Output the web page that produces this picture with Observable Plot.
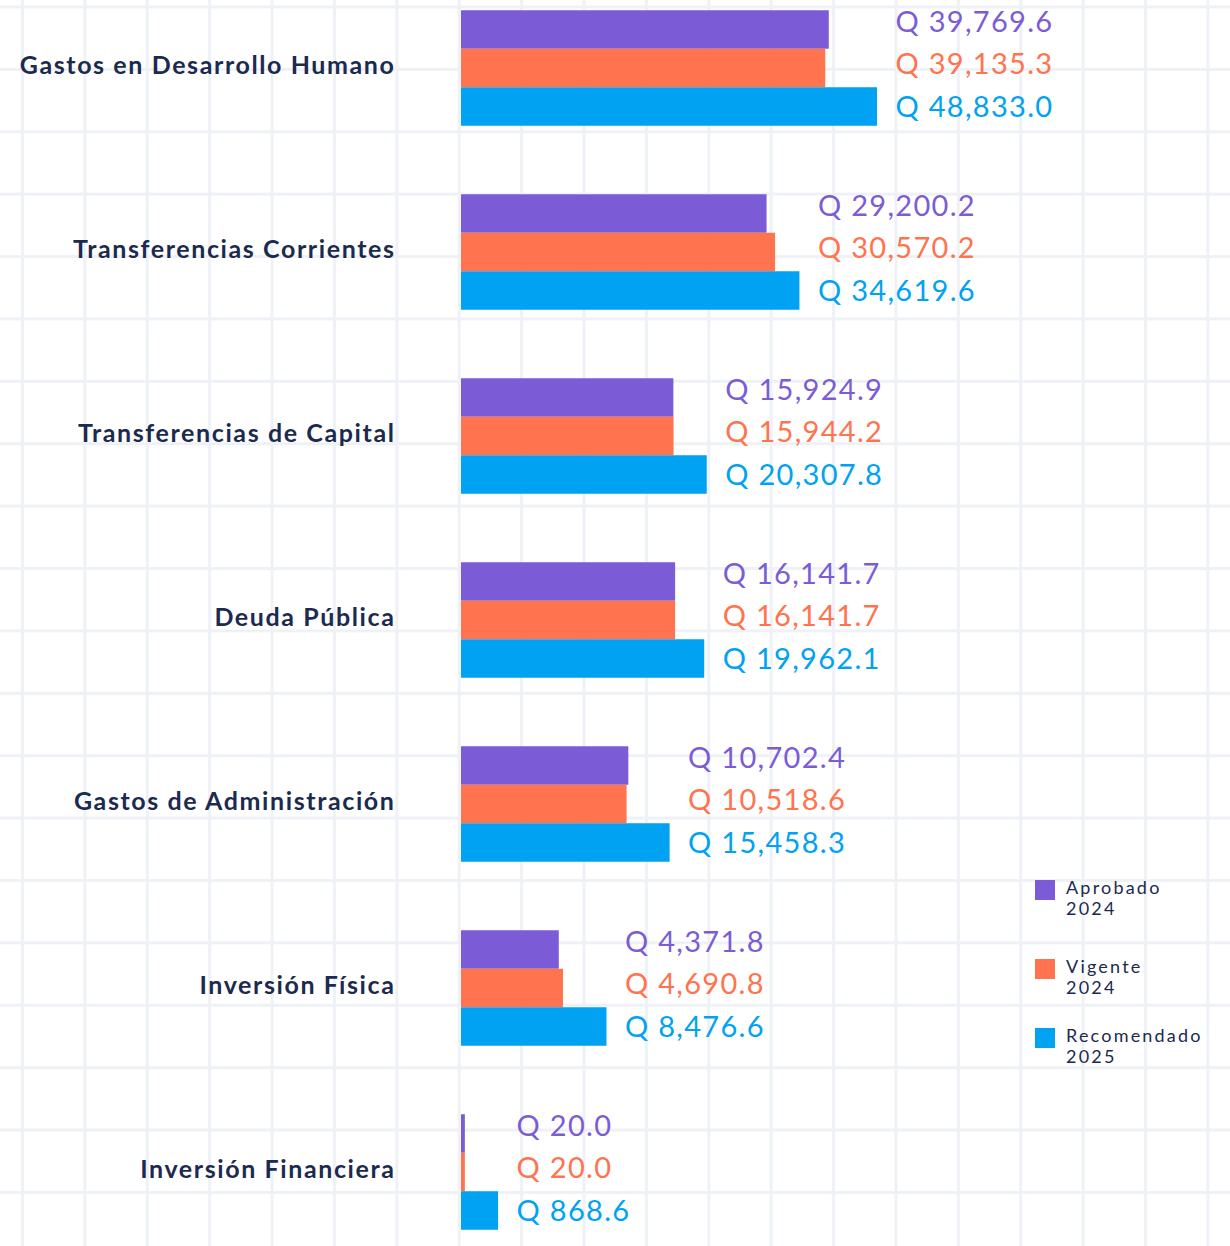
<!DOCTYPE html>
<html><head><meta charset="utf-8">
<script src="https://cdn.jsdelivr.net/npm/d3@7"></script>
<script src="https://cdn.jsdelivr.net/npm/@observablehq/plot@0.6"></script>
<style>
html,body{margin:0;padding:0;}
body{width:1230px;height:1246px;overflow:hidden;position:relative;background-color:#fff;
background-image:linear-gradient(to right,#eef1f6 3px,transparent 3px),linear-gradient(to bottom,#eef1f6 3px,transparent 3px);
background-size:62.4px 62.4px;background-position:21px 5.5px;font-family:Lato,sans-serif;}
#chart{position:absolute;left:0;top:0;}
#legend{position:absolute;left:1035px;top:880px;color:#1b2a4e;font-size:18px;line-height:21px;letter-spacing:2.2px;}
.item{position:absolute;left:0;display:flex;align-items:flex-start;width:195px;}
.sw{width:20px;height:20px;flex:none;margin-right:11px;}
.lab{margin-top:-3px;}
.cat{letter-spacing:1.6px;}
.val{letter-spacing:1.3px;}
</style></head><body>
<div id="chart"></div><div id="legend"></div>
<script>
const categories = ["Gastos en Desarrollo Humano","Transferencias Corrientes","Transferencias de Capital","Deuda Pública","Gastos de Administración","Inversión Física","Inversión Financiera"];
const seriesNames = ["Aprobado 2024","Vigente 2024","Recomendado 2025"];
const legendLines = [["Aprobado","2024"],["Vigente","2024"],["Recomendado","2025"]];
const aprobado2024 = [39769.6, 29200.2, 15924.9, 16141.7, 10702.4, 4371.8, 20.0];
const vigente2024 = [39135.3, 30570.2, 15944.2, 16141.7, 10518.6, 4690.8, 20.0];
const recomendado2025 = [48833.0, 34619.6, 20307.8, 19962.1, 15458.3, 8476.6, 868.6];
const colors = ["#7b5cd6","#ff734e","#00a2f1"];

const seriesValues = [aprobado2024, vigente2024, recomendado2025];
const groupMax = categories.map((c,i)=>d3.max(seriesValues, s=>s[i]));
const fmt = v => "Q " + d3.format(",.1f")(v);
const rowsBy = seriesValues.map((vals,k)=>categories.map((c,i)=>({category:c, value:vals[i], series:seriesNames[k], gmax:groupMax[i]})));

const band = 184, barH = 38.5, shift = 2;
const marks = [];
rowsBy.forEach((rows,k)=>{
  const top = band/2 - 1.5*barH + shift + k*barH;
  marks.push(Plot.barX(rows,{x:"value", y:"category", fill:colors[k], insetTop:top, insetBottom:band-top-barH}));
});
const dys = [-44,-2,41];
rowsBy.forEach((rows,k)=>{
  marks.push(Plot.text(rows,{x:"gmax", y:"category", text:d=>fmt(d.value), fill:colors[k], dx:18, dy:dys[k], textAnchor:"start", fontSize:29, className:"val"}));
});
marks.push(Plot.text(categories,{y:d=>d, x:()=>0, text:d=>d, dx:-66, dy:-1, textAnchor:"end", fontSize:25, fontWeight:"bold", fill:"#1b2a4e", className:"cat"}));

const chart = Plot.plot({
  width:1230, height:1246,
  marginLeft:461, marginRight:353, marginTop:0, marginBottom:0,
  style:{background:"transparent", fontFamily:"Lato, sans-serif", overflow:"visible"},
  x:{type:"pow", exponent:0.6, domain:[0, d3.max(recomendado2025)], axis:null},
  y:{type:"band", domain:categories, range:[-26, -26 + band*categories.length], padding:0, axis:null},
  marks
});
document.getElementById("chart").appendChild(chart);

const legendTops = [0, 79, 148];
const lg = document.getElementById("legend");
legendLines.forEach((lines,k)=>{
  const it = document.createElement("div");
  it.className="item"; it.style.top = legendTops[k]+"px";
  it.innerHTML = `<div class="sw" style="background:${colors[k]}"></div><div class="lab">${lines.join("<br>")}</div>`;
  lg.appendChild(it);
});
</script>
</body></html>
